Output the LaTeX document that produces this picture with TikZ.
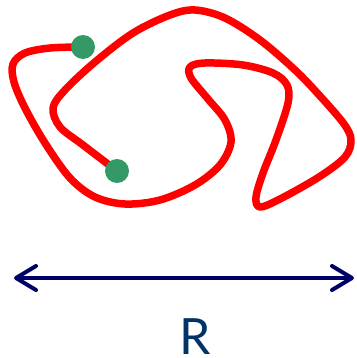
\documentclass[tikz,border=0pt]{standalone}
\usepackage{fontspec}
\setmainfont{Lato}
\usetikzlibrary{arrows.meta}
\definecolor{curvered}{HTML}{FF0000}
\definecolor{dotgreen}{HTML}{339966}
\definecolor{arrownavy}{HTML}{000066}
\definecolor{labelblue}{HTML}{003366}
\tikzset{
  curve/.style={draw=curvered, line width=7.5pt, line cap=round, line join=round},
  dot/.style={circle, fill=dotgreen, minimum size=24pt, inner sep=0pt},
  measure/.style={draw=arrownavy, line width=4pt,
    {Straight Barb[length=20pt, width=24pt, line cap=round, line join=round]}-{Straight Barb[length=20pt, width=24pt, line cap=round, line join=round]}},
  lab/.style={text=labelblue, font=\fontsize{50}{50}\selectfont, anchor=base, inner sep=0pt}
}
\begin{document}
\begin{tikzpicture}[x=1pt, y=-1pt]
\useasboundingbox (0,0) rectangle (356,358);
\draw[curve] plot[smooth, tension=0.55] coordinates {
 (83,47) (50,48) (25,53) (13,64) (14,82) (25,108) (45,143) (70,178)
 (95,197) (125,204) (160,200) (195,185) (220,165) (231,142) (225,120)
 (208,99) (191,78) (190,67) (205,63) (243,65) (273,73) (287,85) (288,103)
 (276,140) (263,173) (256,197) (260,207) (280,199) (319,177) (345,157)
 (351,140) (344,124) (320,96) (295,70) (260,40) (225,18) (195,10) (170,15)
 (133,33) (95,62) (65,90) (53,108) (60,127) (83,145) (117,171)};
\node[dot] (start) at (83,47) {};
\node[dot] (end) at (117,171) {};
\coordinate (aL) at (14,278);
\coordinate (aR) at (354,278);
\draw[measure] (aL) -- (aR);
\node[lab] (r) at (195,354) {R};
\end{tikzpicture}
\end{document}
